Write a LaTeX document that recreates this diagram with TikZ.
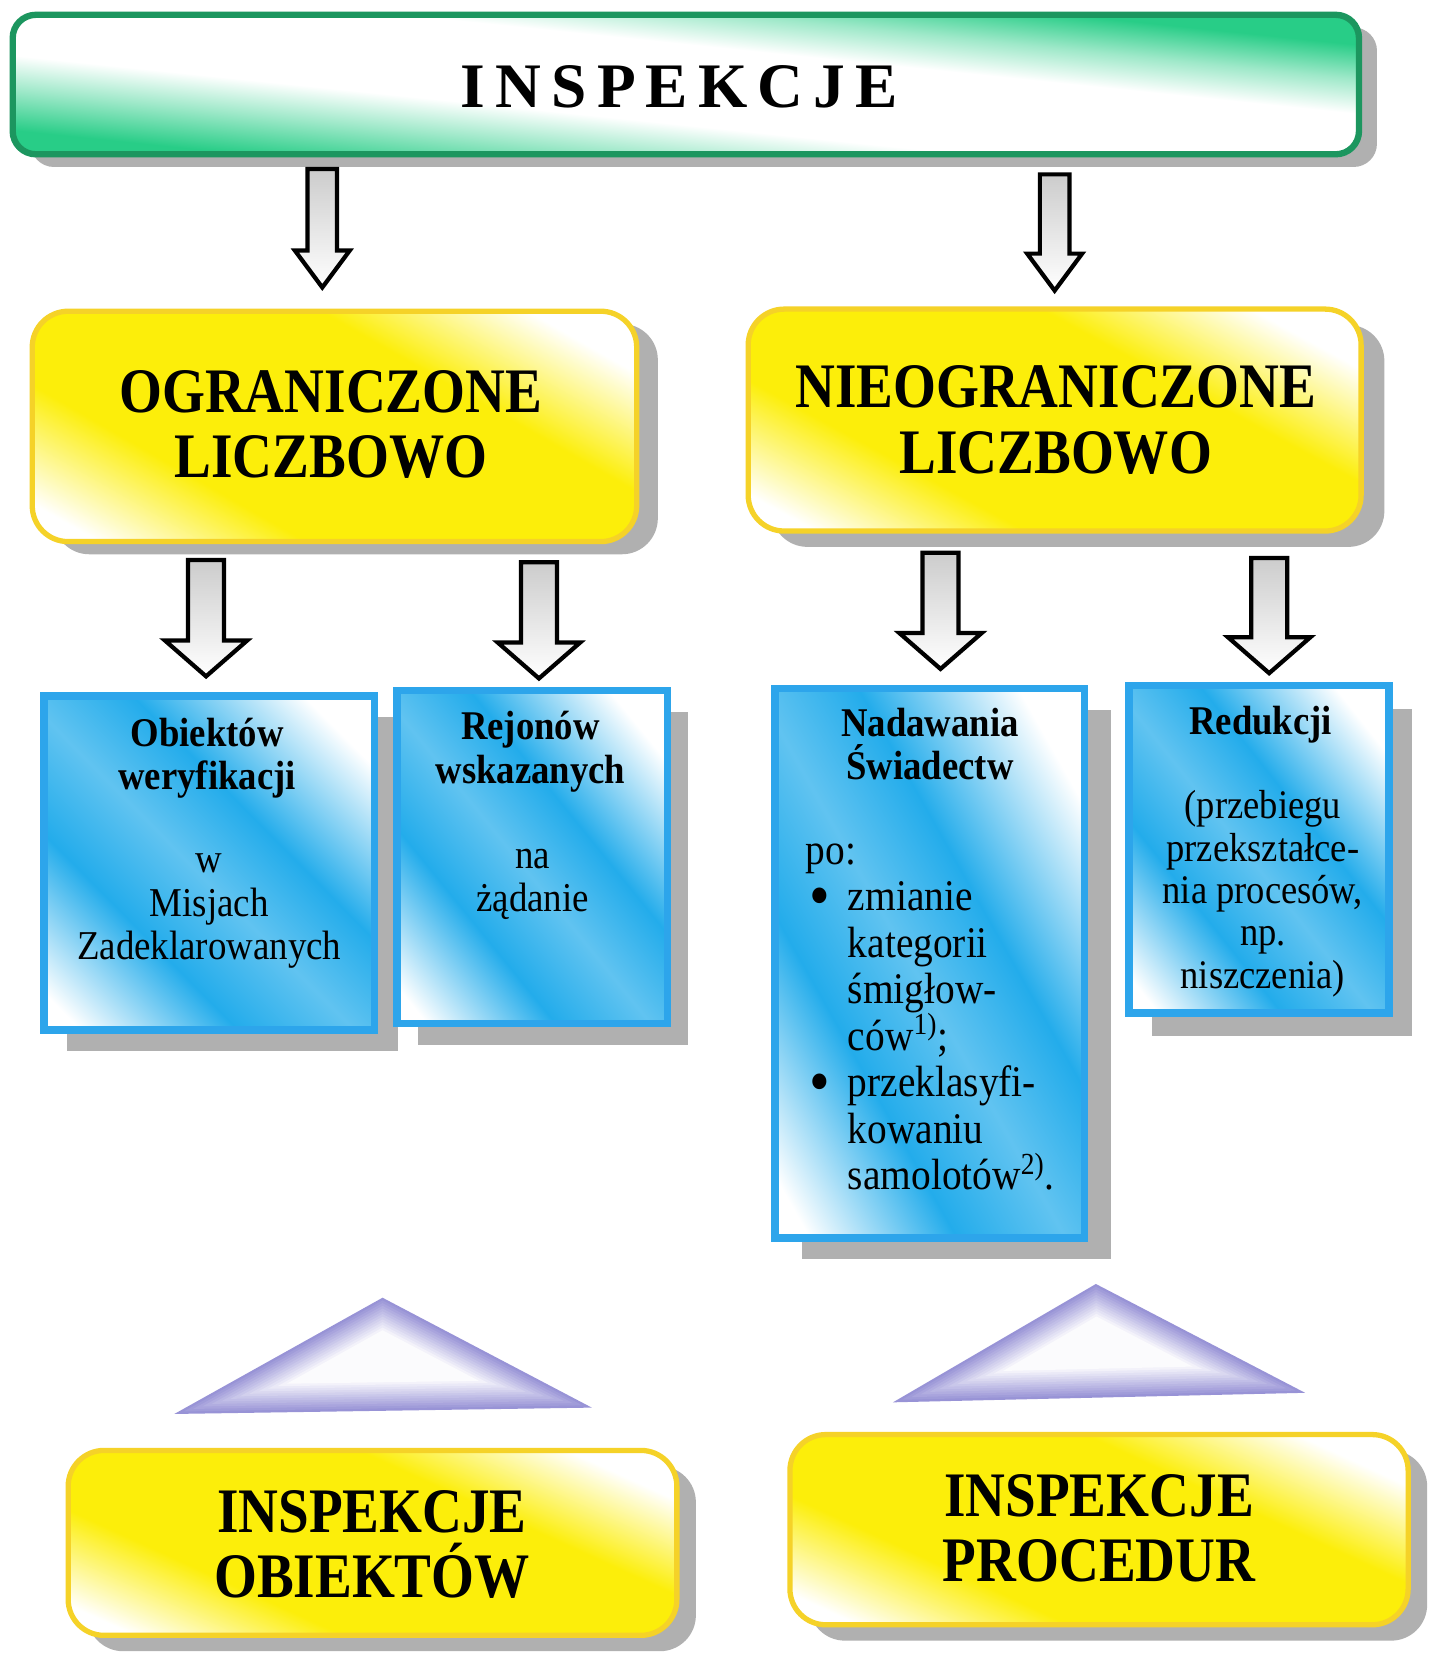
\documentclass[tikz,border=0pt]{standalone}
\usepackage{fontspec}
\setmainfont{Liberation Serif}
\newfontfamily\headfont{Liberation Serif}[FakeStretch=0.87]
\newfontfamily\cellfont{Liberation Serif}[FakeStretch=0.9]
\newfontfamily\spacedfont{Liberation Serif}[LetterSpace=16]
\usetikzlibrary{calc,shadows}

\definecolor{barline}{RGB}{28,150,95}
\definecolor{barfill}{RGB}{40,205,135}
\definecolor{ylwline}{RGB}{245,210,40}
\definecolor{ylwfill}{RGB}{252,238,10}
\definecolor{bluline}{RGB}{45,165,235}
\definecolor{blufill}{RGB}{35,172,235}
\definecolor{shadegray}{RGB}{176,176,176}
\definecolor{lavender}{RGB}{152,147,214}

% colour bands running from the lower left corner (0bp) to the upper right corner (100bp)
\pgfdeclareverticalshading{barbands}{100bp}{color(0bp)=(barfill); color(10bp)=(barfill); color(24bp)=(barfill!45!white); color(36bp)=(white); color(64bp)=(white); color(76bp)=(barfill!45!white); color(88bp)=(barfill); color(100bp)=(barfill)}
\pgfdeclareverticalshading{ylwbands}{100bp}{color(0bp)=(white); color(8bp)=(white); color(28bp)=(ylwfill); color(68bp)=(ylwfill); color(88bp)=(white); color(100bp)=(white)}
\pgfdeclareverticalshading{blubands}{100bp}{color(0bp)=(white); color(7bp)=(white); color(30bp)=(blufill); color(47bp)=(blufill!72!white); color(63bp)=(blufill); color(88bp)=(white); color(100bp)=(white)}

\makeatletter
% paint a declared shading inside a box node so that its bands follow the box diagonal;
% #1 node, #2 shading, #3 weight of the horizontal direction, #4 corner radius, #5 border style
\newcommand\paintbands[5]{%
  \pgfpointdiff{\pgfpointanchor{#1}{south west}}{\pgfpointanchor{#1}{north east}}%
  \edef\bandW{\the\pgf@x}\edef\bandH{\the\pgf@y}%
  \pgfmathsetmacro\bandA{4*\bandW/100}%
  \pgfmathsetmacro\bandB{-4*#3*\bandH/(100*(1-#3))}%
  \pgfmathsetmacro\bandC{1.03*\bandW/(200*#3)}%
  \pgfmathsetmacro\bandD{1.03*\bandH/(200*(1-#3))}%
  \begin{scope}
    \clip[rounded corners=#4] (#1.south west) rectangle (#1.north east);
    \begin{scope}[cm={\bandA,\bandB,\bandC,\bandD,(#1.center)}]
      \node[transform shape, inner sep=0pt, outer sep=0pt] (#1-paint) {\pgfuseshading{#2}};
    \end{scope}
  \end{scope}
  \draw[#5, rounded corners=#4] (#1.south west) rectangle (#1.north east);
}
\makeatother

% centred and left-aligned multi-line text; the baseline is that of the first line
\newcommand\stackc[1]{\vtop{\hsize=300pt\centering\noindent\lineskiplimit=-100pt\relax#1\par}}
\newcommand\stackl[1]{\vtop{\hsize=200pt\raggedright\noindent\lineskiplimit=-100pt\relax#1\par}}
\newcommand\bull{\makebox[20pt][l]{\hspace{2pt}\smash{\raisebox{-3.2pt}{\fontsize{31}{31}\selectfont\textbullet}}}}
\newcommand\ind{\hspace*{20pt}}

% hollow block arrow: start, tip, shaft half width, head half width, head length
\newcommand\blockarrow[5]{%
  \draw[barrow] let \p1=(#1), \p2=(#2) in
    (\x1-#3,\y1) -- (\x1+#3,\y1) -- (\x1+#3,\y2+#5) -- (\x1+#4,\y2+#5)
    -- (\x2,\y2) -- (\x1-#4,\y2+#5) -- (\x1-#3,\y2+#5) -- cycle;}

\tikzset{
  shadowed/.style 2 args={drop shadow={shadow xshift=#1,shadow yshift=#2,fill=shadegray,opacity=1}},
  panel/.style={rectangle, inner sep=0pt, outer sep=0pt},
  baredge/.style={draw=barline, line width=3pt},
  ylwedge/.style={draw=ylwline, line width=2.5pt},
  bluedge/.style={draw=bluline, line width=3.5pt},
  barrow/.style={draw=black, line width=2pt, line join=miter, top color=black!20, bottom color=white},
  titletxt/.style={inner sep=0pt, anchor=base, font=\spacedfont\bfseries\fontsize{30}{31}\selectfont},
  headtxt/.style={inner sep=0pt, anchor=base, font=\headfont\bfseries\fontsize{30}{31}\selectfont},
  cellhead/.style={inner sep=0pt, anchor=base, font=\cellfont\bfseries\fontsize{19.3}{20.5}\selectfont},
  cellbody/.style={inner sep=0pt, anchor=base, font=\cellfont\fontsize{19.4}{20.5}\selectfont},
}

\begin{document}
\begin{tikzpicture}[x=0.5pt,y=-0.5pt]
\useasboundingbox (0,0) rectangle (1352,1568);
\fill[white] (0,0) rectangle (1352,1568);

% ---- boxes with their shadows ----
\node[panel, rounded corners=11pt, shadowed={8.5pt}{-6pt}, minimum width=637pt, minimum height=66pt] (top) at (649,80) {};
\paintbands{top}{barbands}{0.5}{11pt}{baredge}

\node[panel, rounded corners=17pt, shadowed={10pt}{-6pt}, minimum width=286pt, minimum height=109pt] (ogr) at (316.5,403.5) {};
\paintbands{ogr}{ylwbands}{0.6}{17pt}{ylwedge}
\node[panel, rounded corners=17pt, shadowed={11pt}{-7.5pt}, minimum width=290pt, minimum height=105pt] (nieogr) at (998,397.5) {};
\paintbands{nieogr}{ylwbands}{0.6}{17pt}{ylwedge}

\node[panel, shadowed={11pt}{-10pt}, minimum width=156.5pt, minimum height=158pt] (obj) at (198,816.5) {};
\node[panel, shadowed={10pt}{-10pt}, minimum width=128pt, minimum height=157.5pt] (rej) at (503.5,811) {};
\node[panel, shadowed={12.5pt}{-10pt}, minimum width=146.5pt, minimum height=260pt] (nad) at (880,911.5) {};
\node[panel, shadowed={11pt}{-11pt}, minimum width=123pt, minimum height=155pt] (red) at (1191.5,803.5) {};
\paintbands{obj}{blubands}{0.5}{0pt}{bluedge}
\paintbands{rej}{blubands}{0.5}{0pt}{bluedge}
\paintbands{nad}{blubands}{0.5}{0pt}{bluedge}
\paintbands{red}{blubands}{0.5}{0pt}{bluedge}

\node[panel, rounded corners=17pt, shadowed={9pt}{-7.5pt}, minimum width=288pt, minimum height=87.5pt] (objinsp) at (352.5,1460) {};
\paintbands{objinsp}{ylwbands}{0.6}{17pt}{ylwedge}
\node[panel, rounded corners=17pt, shadowed={9pt}{-7.5pt}, minimum width=292.5pt, minimum height=90pt] (procinsp) at (1040,1447.5) {};
\paintbands{procinsp}{ylwbands}{0.6}{17pt}{ylwedge}

% ---- texts ----
\node[titletxt] (toptitle) at (643,102) {INSPEKCJE};
\node[headtxt] (ogrtxt) at (313,390) {\stackc{OGRANICZONE\\LICZBOWO}};
\node[headtxt] (nieogrtxt) at (999,386) {\stackc{NIEOGRANICZONE\\LICZBOWO}};
\node[headtxt] (objinsptxt) at (352,1450) {\stackc{INSPEKCJE\\OBIEKTÓW}};
\node[headtxt] (procinsptxt) at (1040,1435) {\stackc{INSPEKCJE\\PROCEDUR}};

\node[cellhead] (objhead) at (196,706) {\stackc{Obiektów\\weryfikacji}};
\node[cellbody] (objbody) at (198,826) {\stackc{w\\Misjach\\Zadeklarowanych}};

\node[cellhead] (rejhead) at (502,700) {\stackc{Rejonów\\wskazanych}};
\node[cellbody] (rejbody) at (504,822) {\stackc{na\\żądanie}};

\node[cellhead] (nadhead) at (880,697) {\stackc{Nadawania\\Świadectw}};
\node[cellbody, anchor=base west, font=\cellfont\fontsize{20.7}{22}\selectfont] (nadbody) at (762,818)
  {\stackl{po:\\
   \bull zmianie\\
   \ind kategorii\\
   \ind śmigłow-\\
   \ind ców\textsuperscript{1)};\\
   \bull przeklasyfi-\\
   \ind kowaniu\\
   \ind samolotów\textsuperscript{2)}.}};

\node[cellhead] (redhead) at (1193,695) {Redukcji};
\node[cellbody, font=\cellfont\fontsize{19.2}{20}\selectfont] (redbody) at (1195,775)
  {\stackc{(przebiegu\\przekształce-\\nia procesów,\\np.\\niszczenia)}};

% ---- block arrows ----
\coordinate (a1s) at (305,160);  \coordinate (a1t) at (305,272);
\coordinate (a2s) at (998,165);  \coordinate (a2t) at (998,275);
\coordinate (a3s) at (195,530);  \coordinate (a3t) at (195,640);
\coordinate (a4s) at (510,532);  \coordinate (a4t) at (510,642);
\coordinate (a5s) at (890,523);  \coordinate (a5t) at (890,633);
\coordinate (a6s) at (1201,528); \coordinate (a6t) at (1201,637);
\blockarrow{a1s}{a1t}{7pt}{13pt}{17.5pt}
\blockarrow{a2s}{a2t}{7pt}{13pt}{17.5pt}
\blockarrow{a3s}{a3t}{8.5pt}{19.5pt}{17pt}
\blockarrow{a4s}{a4t}{8.5pt}{19.5pt}{17pt}
\blockarrow{a5s}{a5t}{8.5pt}{19.5pt}{17pt}
\blockarrow{a6s}{a6t}{8.5pt}{19.5pt}{17pt}

% ---- glowing triangles ----
\foreach \k in {0,...,12} {
  \pgfmathsetmacro\f{1-\k*0.045}
  \pgfmathsetmacro\c{100-\k*8}
  \fill[lavender!\c!white, scale around={\f:(362,1285)}] (362,1228) -- (560,1332) -- (165,1338) -- cycle;
  \fill[lavender!\c!white, scale around={\f:(1038,1272)}] (1037,1215) -- (1235,1318) -- (845,1327) -- cycle;
}
\end{tikzpicture}
\end{document}
